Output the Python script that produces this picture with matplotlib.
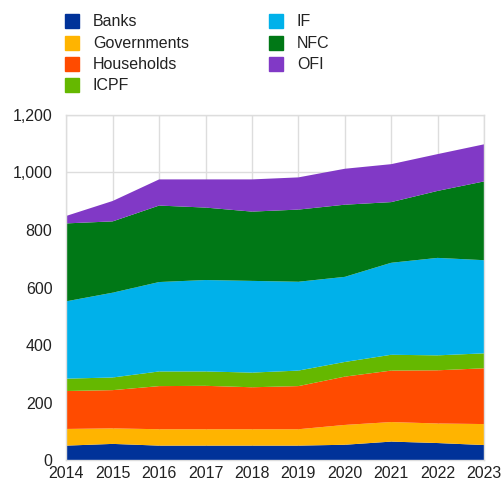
import matplotlib
matplotlib.use("Agg")
import matplotlib.pyplot as plt
from matplotlib.patches import Rectangle
from matplotlib.ticker import FuncFormatter, MultipleLocator

plt.rcParams['font.family'] = ['Liberation Sans', 'DejaVu Sans']

years = [2014, 2015, 2016, 2017, 2018, 2019, 2020, 2021, 2022, 2023]
series_names = ["Banks", "Governments", "Households", "ICPF", "IF", "NFC", "OFI"]
banks = [50, 56, 50, 50, 50, 50, 53, 64, 59, 52]
governments = [58, 54, 57, 57, 57, 57, 69, 68, 68, 73]
households = [132, 133, 150, 151, 146, 150, 168, 179, 185, 194]
icpf = [43, 44, 51, 50, 51, 54, 51, 55, 52, 52]
inv_funds = [269, 295, 311, 318, 319, 309, 296, 320, 339, 324]
nfc = [271, 248, 266, 252, 241, 251, 251, 211, 233, 274]
ofi = [26, 71, 91, 98, 112, 112, 125, 132, 128, 129]
colors = ["#003299", "#ffb400", "#ff4b00", "#65b800", "#00b1ea", "#007816", "#8139c6"]

fig = plt.figure(figsize=(5.02, 4.86), dpi=100)
ax = fig.add_axes([66.3 / 502, 26 / 486, (484 - 66.3) / 502, (460 - 115) / 486])

ax.stackplot(years, banks, governments, households, icpf, inv_funds, nfc, ofi,
             colors=colors, linewidth=0, zorder=2)

ax.set_xlim(2014, 2023)
ax.set_ylim(0, 1200)
ax.set_xticks(years)
ax.yaxis.set_major_locator(MultipleLocator(200))
ax.yaxis.set_major_formatter(FuncFormatter(lambda v, p: f"{int(v):,}"))
ax.grid(True, color="#dddddd", linewidth=1, zorder=0)
ax.set_axisbelow(True)
for s in ax.spines.values():
    s.set_color("#dddddd")
    s.set_linewidth(1)
ax.tick_params(axis="both", length=0, labelsize=11.5, colors="#222222")
ax.tick_params(axis="y", pad=10)
ax.tick_params(axis="x", pad=4)

# legend drawn manually in two columns
col_x = [65, 269]
row_y = [21, 43, 64, 85]
for i, (name, c) in enumerate(zip(series_names, colors)):
    col = 0 if i < 4 else 1
    row = i if i < 4 else i - 4
    x0 = col_x[col]
    yc = row_y[row]
    fig.patches.append(Rectangle((x0 / 502, 1 - (yc + 7) / 486), 14 / 502, 14 / 486,
                                 transform=fig.transFigure, color=c))
    fig.text((x0 + 28) / 502, 1 - yc / 486, name, fontsize=11.5, va="center",
             ha="left", color="#222222")

fig.savefig("out.png", dpi=100)
